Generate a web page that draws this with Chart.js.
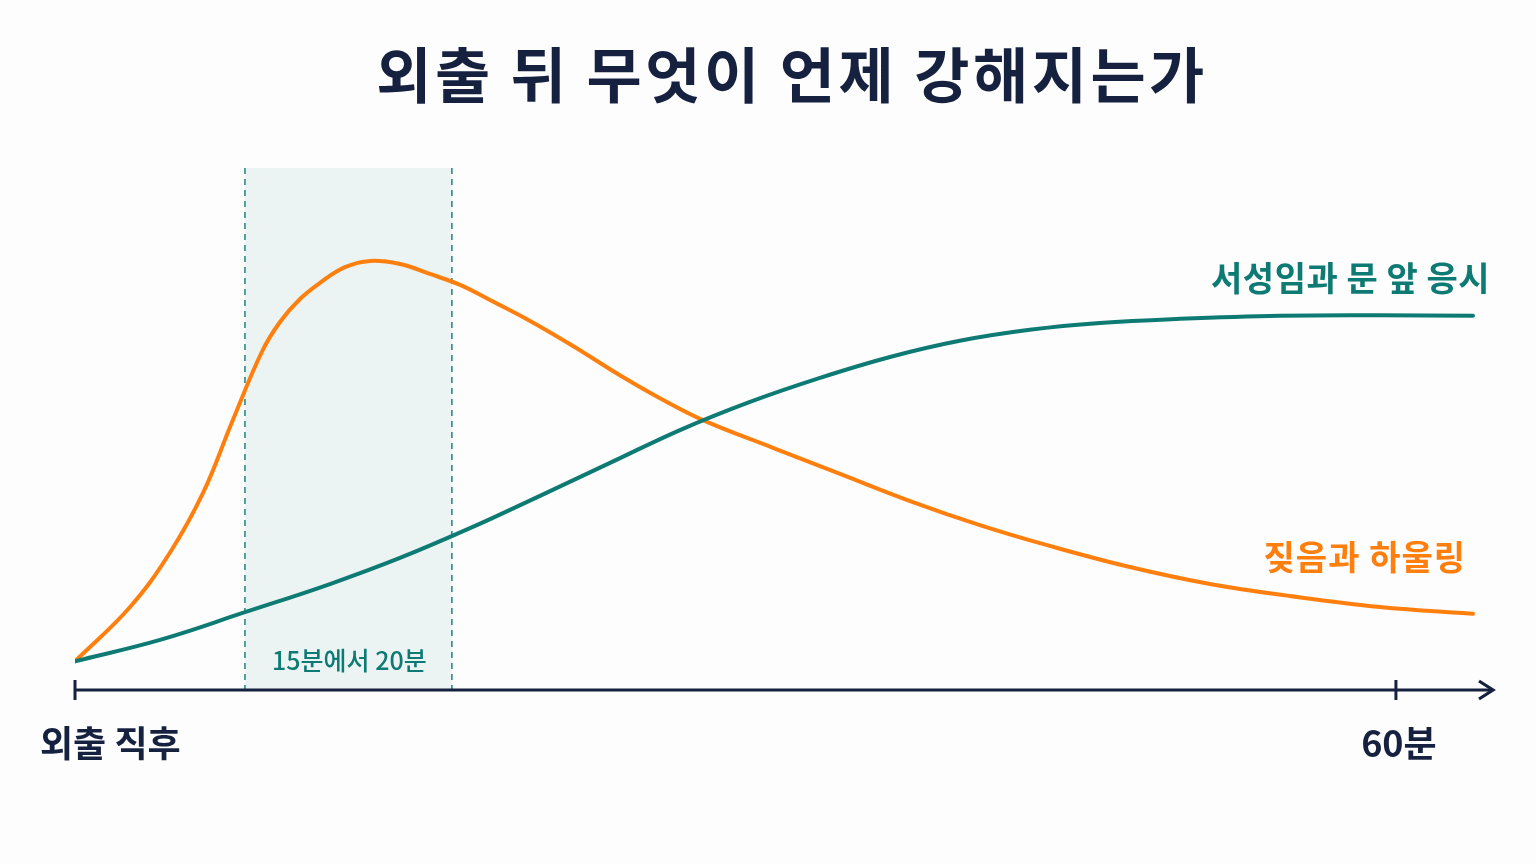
<!DOCTYPE html>
<html lang="ko">
<head>
<meta charset="utf-8">
<title>외출 뒤 무엇이 언제 강해지는가</title>
<script src="https://cdn.jsdelivr.net/npm/chart.js@4.4.1/dist/chart.umd.min.js"></script>
<style>
  html, body { margin: 0; padding: 0; background: #fdfdfd; }
  #wrap { position: relative; width: 1536px; height: 864px; }
</style>
</head>
<body>
<div id="wrap"><canvas id="chart"></canvas></div>
<script>
// minutes after leaving (x) and relative intensity 0-100 (y)
const barkMinutes = [0, 2.5, 4.31, 5.81, 7.13, 8.49, 9.31, 10.22, 11.13, 12.26, 13.4, 14.76, 16.12, 17.49, 18.85, 20.67, 22.62, 24.75, 26.57, 28.52, 31.7, 34.75, 37.93, 41.1, 44.28, 47.87, 51.55, 55.18, 59.27, 63.5];
const barkValues  = [5.5, 15.9, 26.3, 37.7, 51.3, 64.8, 70.5, 74.9, 78.0, 81.0, 82.2, 81.6, 79.7, 77.6, 74.7, 70.7, 65.9, 60.3, 55.9, 51.7, 46.4, 41.4, 36.2, 31.6, 27.6, 23.6, 20.3, 18.0, 15.9, 14.6];

const paceMinutes = [0, 3.86, 7.72, 11.58, 14.76, 17.94, 21.12, 24.3, 27.48, 30.66, 33.84, 37.02, 40.19, 43.37, 46.55, 50.19, 54.73, 59.27, 63.5];
const paceValues  = [5.5, 9.6, 14.9, 20.3, 25.3, 31.0, 37.2, 43.5, 49.8, 55.2, 59.8, 63.8, 66.9, 69.0, 70.3, 71.1, 71.7, 71.8, 71.7];

const seriesNames = ["짖음과 하울링", "서성임과 문 앞 응시"];
const bandRange = [7.72, 17.12];
const bandLabel = "15분에서 20분";
const tickValues = [0, 60];
const tickLabels = ["외출 직후", "60분"];
const titleText = "외출 뒤 무엇이 언제 강해지는가";

const ORANGE = "#ff7f0e";
const TEAL = "#0e7a74";
const NAVY = "#15213f";
const FONT = '"Noto Sans CJK KR", "Noto Sans", sans-serif';

function toPoints(xs, ys){
  return xs.map((x, i) => ({ x, y: ys[i] }));
}

function spaced(ctx, px){
  if ("letterSpacing" in ctx) ctx.letterSpacing = `${px}px`;
}

const bandPlugin = {
  id: "band",
  beforeDatasetsDraw(chart){
    const { ctx, chartArea, scales } = chart;
    const x0 = scales.x.getPixelForValue(bandRange[0]);
    const x1 = scales.x.getPixelForValue(bandRange[1]);
    ctx.save();
    ctx.fillStyle = "rgba(14,122,116,0.07)";
    ctx.fillRect(x0, chartArea.top, x1 - x0, chartArea.bottom - chartArea.top);
    ctx.strokeStyle = TEAL;
    ctx.lineWidth = 1.4;
    ctx.setLineDash([6, 5]);
    [x0, x1].forEach((x) => {
      ctx.beginPath();
      ctx.moveTo(x, chartArea.top);
      ctx.lineTo(x, chartArea.bottom);
      ctx.stroke();
    });
    ctx.setLineDash([]);
    ctx.fillStyle = TEAL;
    ctx.font = `500 25px ${FONT}`;
    ctx.textAlign = "center";
    ctx.textBaseline = "middle";
    ctx.fillText(bandLabel, (x0 + x1) / 2 + 1, chartArea.bottom - 30);
    ctx.restore();
  },
};

const decorPlugin = {
  id: "decor",
  afterDatasetsDraw(chart){
    const { ctx, chartArea, scales } = chart;
    const y0 = scales.y.getPixelForValue(0);
    ctx.save();
    // x axis with arrow
    ctx.strokeStyle = NAVY;
    ctx.fillStyle = NAVY;
    ctx.lineWidth = 3;
    ctx.beginPath();
    ctx.moveTo(chartArea.left, y0);
    ctx.lineTo(chartArea.right - 4, y0);
    ctx.stroke();
    ctx.beginPath();
    ctx.moveTo(chartArea.right - 16, y0 - 9);
    ctx.lineTo(chartArea.right - 2, y0);
    ctx.lineTo(chartArea.right - 16, y0 + 9);
    ctx.lineWidth = 3.2;
    ctx.stroke();
    tickValues.forEach((v, i) => {
      const x = scales.x.getPixelForValue(v);
      ctx.lineWidth = 3;
      ctx.beginPath();
      ctx.moveTo(x, y0 - 10);
      ctx.lineTo(x, y0 + 10);
      ctx.stroke();
      ctx.font = `600 36px ${FONT}`;
      ctx.textBaseline = "middle";
      if (i === 0){
        ctx.textAlign = "left";
        ctx.fillText(tickLabels[i], x - 35, y0 + 53);
      } else {
        ctx.textAlign = "center";
        ctx.fillText(tickLabels[i], x + 3, y0 + 53);
      }
    });

    // series labels near line ends
    const bx = scales.x.getPixelForValue(barkMinutes[barkMinutes.length - 1]);
    const by = scales.y.getPixelForValue(barkValues[barkValues.length - 1]);
    const px = scales.x.getPixelForValue(paceMinutes[paceMinutes.length - 1]);
    const py = scales.y.getPixelForValue(paceValues[paceValues.length - 1]);
    ctx.textAlign = "right";
    ctx.textBaseline = "middle";
    ctx.font = `600 34px ${FONT}`;
    spaced(ctx, 1);
    ctx.fillStyle = ORANGE;
    ctx.fillText(seriesNames[0], bx - 7, by - 57);
    spaced(ctx, 0.5);
    ctx.fillStyle = TEAL;
    ctx.fillText(seriesNames[1], px + 17, py - 38);

    // title
    ctx.fillStyle = NAVY;
    ctx.font = `bold 60px ${FONT}`;
    spaced(ctx, 3.5);
    ctx.textAlign = "center";
    ctx.fillText(titleText, (chartArea.left + chartArea.right) / 2 + 7, 75);
    ctx.restore();
  },
};

new Chart(document.getElementById("chart"), {
  type: "line",
  data: {
    datasets: [
      {
        label: seriesNames[1],
        data: toPoints(paceMinutes, paceValues),
        borderColor: TEAL,
        borderWidth: 4,
        pointRadius: 0,
        tension: 0.4,
        borderCapStyle: "round",
      },
      {
        label: seriesNames[0],
        data: toPoints(barkMinutes, barkValues),
        borderColor: ORANGE,
        borderWidth: 4,
        pointRadius: 0,
        tension: 0.4,
        borderCapStyle: "round",
      },
    ],
  },
  options: {
    responsive: true,
    maintainAspectRatio: false,
    animation: false,
    layout: { padding: { left: 75, right: 41, top: 168, bottom: 174 } },
    scales: {
      x: { type: "linear", min: 0, max: 64.5, display: false },
      y: { min: 0, max: 100, display: false },
    },
    plugins: {
      legend: { display: false },
      tooltip: { enabled: false },
    },
  },
  plugins: [bandPlugin, decorPlugin],
});
</script>
</body>
</html>
